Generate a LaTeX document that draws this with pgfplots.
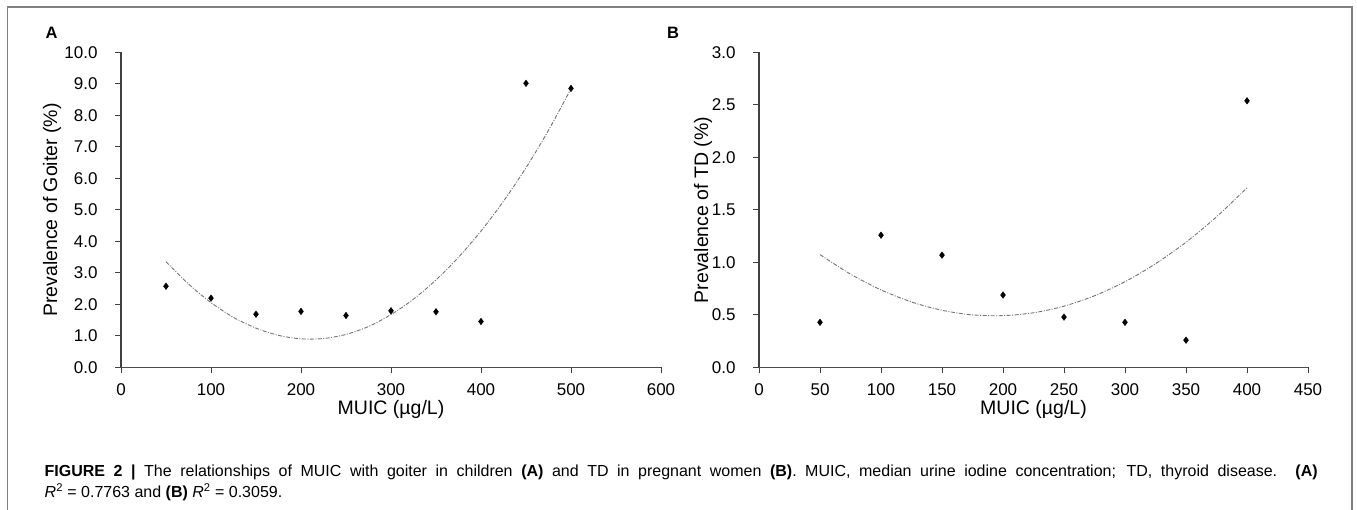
\documentclass[border=0pt]{standalone}
\usepackage{fontspec}
\setmainfont{Liberation Sans}
\usepackage{pgfplots}
\pgfplotsset{compat=1.18}

\definecolor{trend}{gray}{0.45}

\pgfplotsset{
  muic/.style={
    scale only axis,
    height=315pt,
    ymin=0,
    axis x line*=bottom,
    axis y line*=left,
    tick align=outside,
    major tick length=6pt,
    tick style={black!75, line width=1pt},
    x axis line style={black!70, line width=1.6pt},
    y axis line style={black!75, line width=1.1pt},
    tick label style={font=\fontsize{17}{20}\selectfont},
    label style={font=\fontsize{19.5}{23}\selectfont},
    /pgf/number format/assume math mode=true,
    yticklabel style={xshift=-14pt,
      /pgf/number format/fixed, /pgf/number format/fixed zerofill,
      /pgf/number format/precision=1},
    xticklabel style={yshift=-7pt,
      /pgf/number format/fixed, /pgf/number format/precision=0},
    clip=false,
  },
  pts/.style={only marks, mark=diamond*, mark size=3.3pt, black},
  fit/.style={no marks, smooth, trend, line width=0.9pt,
    dash pattern=on 4pt off 1.5pt on 1pt off 1.5pt},
}

\begin{document}
\begin{tikzpicture}
\useasboundingbox (0pt,0pt) rectangle (1357pt,510pt);
\draw[black!50, line width=1.6pt] (7.5pt,-3pt) -- (7.5pt,503pt) -- (1352pt,503pt) -- (1352pt,-3pt);

\node[font=\bfseries\fontsize{16.5}{20}\selectfont] at (51.5pt,477.5pt) {A};
\node[font=\bfseries\fontsize{16.5}{20}\selectfont] at (673pt,477.5pt) {B};

% panel A: goiter in children
\begin{axis}[muic,
  at={(121pt,142.5pt)}, anchor=south west,
  width=540pt,
  xmin=0, xmax=600, ymax=10,
  xtick={0,100,...,600},
  ytick={0,1,...,10},
  xlabel={MUIC (µg/L)},
  ylabel={Prevalence of Goiter (\%)},
  xlabel style={at={([yshift=-42pt]axis description cs:0.5,0)}, anchor=center},
  ylabel style={at={([xshift=-69pt]axis description cs:0,0.5)}, anchor=center},
]
\addplot[fit] coordinates {
  (50,3.36) (75,2.65) (100,2.06) (125,1.59) (150,1.25) (175,1.02) (200,0.91)
  (225,0.92) (250,1.05) (275,1.30) (300,1.68) (325,2.17) (350,2.78) (375,3.50)
  (400,4.33) (425,5.28) (450,6.34) (475,7.53) (500,8.85)
};
\addplot[pts] coordinates {
  (50,2.58) (100,2.20) (150,1.69) (200,1.78) (250,1.65)
  (300,1.80) (350,1.77) (400,1.46) (450,9.02) (500,8.86)
};
\end{axis}

% panel B: thyroid disease in pregnant women
\begin{axis}[muic,
  at={(759pt,142.5pt)}, anchor=south west,
  width=549pt,
  xmin=0, xmax=450, ymax=3,
  xtick={0,50,...,450},
  ytick={0,0.5,...,3},
  xlabel={MUIC (µg/L)},
  ylabel={Prevalence of TD (\%)},
  xlabel style={at={([yshift=-42pt]axis description cs:0.5,0)}, anchor=center},
  ylabel style={at={([xshift=-56pt]axis description cs:0,0.5)}, anchor=center},
]
\addplot[fit] coordinates {
  (50,1.075) (75,0.889) (100,0.739) (125,0.624) (150,0.545) (175,0.501)
  (200,0.494) (225,0.521) (250,0.584) (275,0.683) (300,0.817) (325,0.988)
  (350,1.193) (375,1.435) (400,1.711)
};
\addplot[pts] coordinates {
  (50,0.43) (100,1.26) (150,1.07) (200,0.69)
  (250,0.48) (300,0.43) (350,0.26) (400,2.54)
};
\end{axis}

% caption
\node[anchor=base west, inner sep=0pt] at (44.5pt,33pt) {\fontsize{16}{21}\selectfont
  \makebox[1273pt][s]{\textbf{FIGURE 2 |} The relationships of MUIC with goiter in children \textbf{(A)} and TD in pregnant women \textbf{(B)}. MUIC, median urine iodine concentration; TD, thyroid disease. \textbf{(A)}}};
\node[anchor=base west, inner sep=0pt] at (44.5pt,12pt) {\fontsize{16}{21}\selectfont
  \textit{R}\textsuperscript{2} = 0.7763 and \textbf{(B)} \textit{R}\textsuperscript{2} = 0.3059.};
\end{tikzpicture}
\end{document}
